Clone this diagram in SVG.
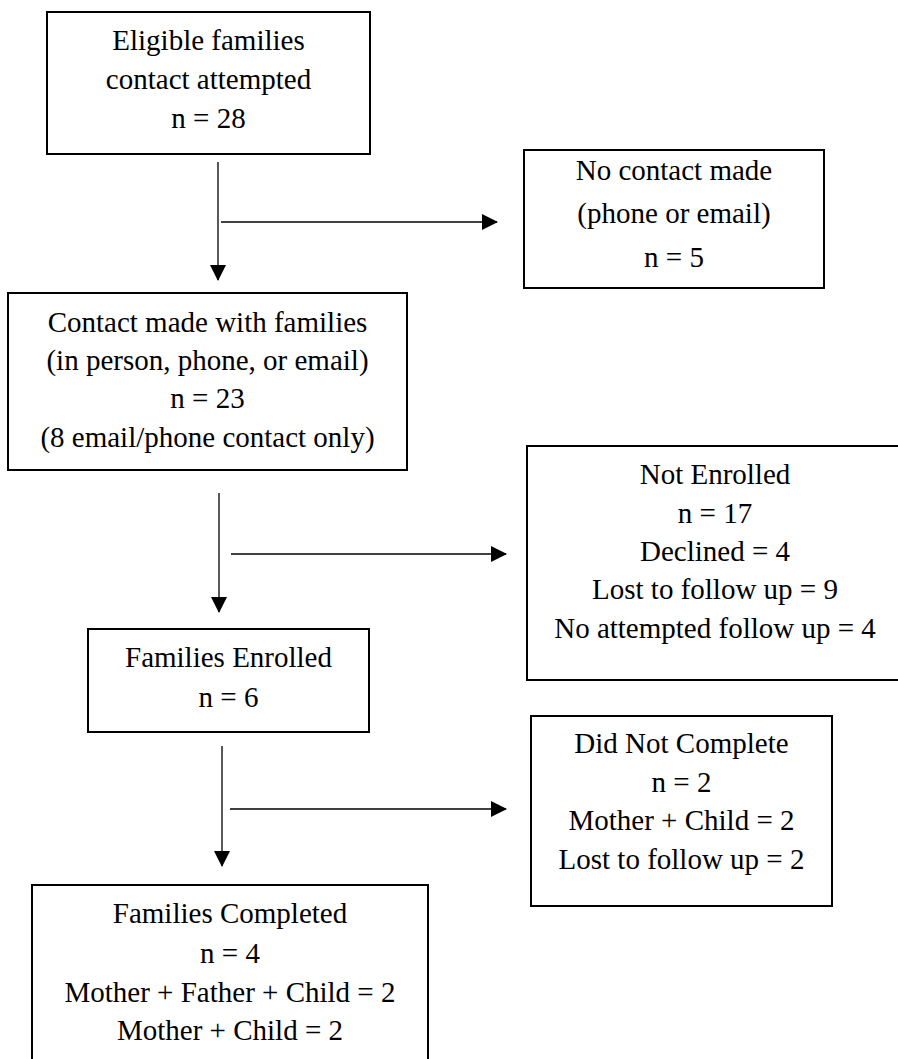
<svg xmlns="http://www.w3.org/2000/svg" width="898" height="1059" viewBox="0 0 898 1059">
<style>
.box{fill:#fff;stroke:#000;stroke-width:2}
.t{font-family:"Liberation Serif","Times New Roman",serif;font-size:29px;fill:#000;text-anchor:middle}
.c{stroke:#000;stroke-width:1.3;fill:none}
</style>
<defs>
<marker id="ah" markerWidth="16" markerHeight="16" refX="15" refY="8" orient="auto" markerUnits="userSpaceOnUse">
<path d="M0,0 L16,8 L0,16 Z" fill="#000"/>
</marker>
</defs>
<rect width="898" height="1059" fill="#fff"/>
<g id="connectors">
<line class="c" x1="218" y1="162" x2="218" y2="280" marker-end="url(#ah)"/>
<line class="c" x1="221" y1="222" x2="497" y2="222" marker-end="url(#ah)"/>
<line class="c" x1="219" y1="493" x2="219" y2="612" marker-end="url(#ah)"/>
<line class="c" x1="231" y1="554" x2="506" y2="554" marker-end="url(#ah)"/>
<line class="c" x1="222" y1="746" x2="222" y2="866" marker-end="url(#ah)"/>
<line class="c" x1="230" y1="809" x2="506" y2="809" marker-end="url(#ah)"/>
</g>
<g id="n1">
<rect class="box" x="47" y="12" width="323" height="142"/>
<text class="t" x="208.5" y="50">Eligible families</text>
<text class="t" x="208.5" y="89">contact attempted</text>
<text class="t" x="208.5" y="128">n = 28</text>
</g>
<g id="n2">
<rect class="box" x="524" y="150" width="300" height="138"/>
<text class="t" x="674" y="180">No contact made</text>
<text class="t" x="674" y="223">(phone or email)</text>
<text class="t" x="674" y="267">n = 5</text>
</g>
<g id="n3">
<rect class="box" x="8" y="293" width="399" height="177"/>
<text class="t" x="207.5" y="332">Contact made with families</text>
<text class="t" x="207.5" y="370">(in person, phone, or email)</text>
<text class="t" x="207.5" y="408">n = 23</text>
<text class="t" x="207.5" y="447">(8 email/phone contact only)</text>
</g>
<g id="n4">
<rect class="box" x="527" y="446" width="378" height="234"/>
<text class="t" x="715" y="484">Not Enrolled</text>
<text class="t" x="715" y="523">n = 17</text>
<text class="t" x="715" y="561">Declined = 4</text>
<text class="t" x="715" y="599">Lost to follow up = 9</text>
<text class="t" x="715" y="638">No attempted follow up = 4</text>
</g>
<g id="n5">
<rect class="box" x="88" y="629" width="281" height="103"/>
<text class="t" x="228.5" y="667">Families Enrolled</text>
<text class="t" x="228.5" y="707">n = 6</text>
</g>
<g id="n6">
<rect class="box" x="531" y="716" width="301" height="190"/>
<text class="t" x="681.5" y="753">Did Not Complete</text>
<text class="t" x="681.5" y="792">n = 2</text>
<text class="t" x="681.5" y="830">Mother + Child = 2</text>
<text class="t" x="681.5" y="869">Lost to follow up = 2</text>
</g>
<g id="n7">
<rect class="box" x="32" y="885" width="396" height="190"/>
<text class="t" x="230" y="923">Families Completed</text>
<text class="t" x="230" y="963">n = 4</text>
<text class="t" x="230" y="1002">Mother + Father + Child = 2</text>
<text class="t" x="230" y="1040">Mother + Child = 2</text>
</g>
</svg>
